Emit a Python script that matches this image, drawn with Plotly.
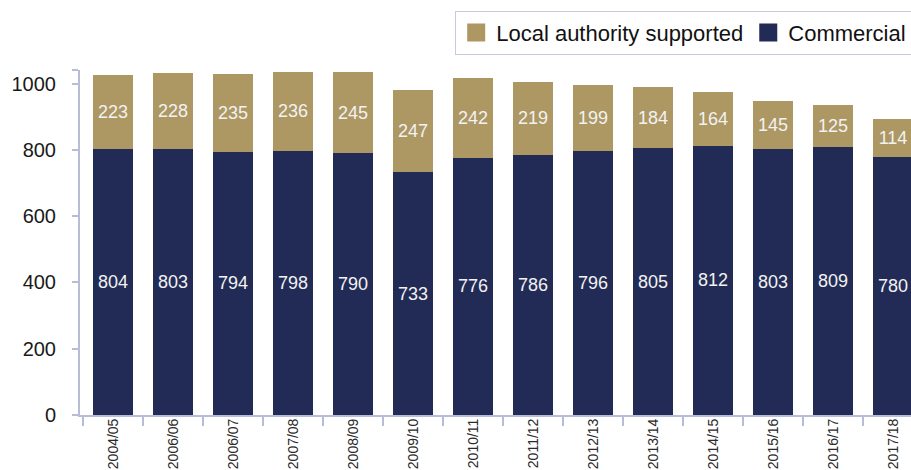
import plotly.graph_objects as go

# Bus journeys by year (millions): commercial vs local-authority-supported services
years = ["2004/05", "2006/06", "2006/07", "2007/08", "2008/09", "2009/10", "2010/11",
         "2011/12", "2012/13", "2013/14", "2014/15", "2015/16", "2016/17", "2017/18"]
commercial = [804, 803, 794, 798, 790, 733, 776, 786, 796, 805, 812, 803, 809, 780]
la_supported = [223, 228, 235, 236, 245, 247, 242, 219, 199, 184, 164, 145, 125, 114]
y_tick_values = [0, 200, 400, 600, 800, 1000]

NAVY = "#222b55"
GOLD = "#ad9864"
AXIS = "#b7bdd8"
FONT = "Liberation Sans, Arial, sans-serif"

fig = go.Figure()

fig.add_trace(go.Bar(
    x=years, y=commercial, name="Commercial",
    marker=dict(color=NAVY, line=dict(width=0)),
    text=[str(v) for v in commercial], textposition="inside",
    insidetextanchor="middle", textangle=0,
    textfont=dict(color="#f2f2f2", size=18, family=FONT),
    showlegend=False, hoverinfo="x+y+name",
))
fig.add_trace(go.Bar(
    x=years, y=la_supported, name="Local authority supported",
    marker=dict(color=GOLD, line=dict(width=0)),
    text=[str(v) for v in la_supported], textposition="inside",
    insidetextanchor="middle", textangle=0,
    textfont=dict(color="#f2f2f2", size=18, family=FONT),
    showlegend=False, hoverinfo="x+y+name",
))

# Legend entries with larger square swatches
for name, color in [("Local authority supported", GOLD), ("Commercial", NAVY)]:
    fig.add_trace(go.Scatter(
        x=[None], y=[None], mode="markers", name=name,
        marker=dict(symbol="square", size=16, color=color,
                    line=dict(color=color, width=2)),
        showlegend=True, hoverinfo="skip",
    ))

fig.update_layout(
    width=911, height=470,
    margin=dict(l=80, r=0, t=70, b=55, autoexpand=False),
    paper_bgcolor="white", plot_bgcolor="white",
    barmode="stack", bargap=1/3,
    font=dict(family=FONT, color="#1a1a1a"),
    legend=dict(
        orientation="h", x=0.4515, y=1.172, xanchor="left", yanchor="top",
        bordercolor="#c8cadf", borderwidth=1, bgcolor="white",
        font=dict(size=22, color="#111111", family=FONT),
        traceorder="normal", itemclick=False, itemdoubleclick=False,
    ),
)

fig.update_xaxes(
    type="category", range=[-0.55, 13.3],
    showline=True, linecolor=AXIS, linewidth=2,
    ticks="outside", tickson="boundaries", ticklen=9, tickwidth=2, tickcolor=AXIS,
    tickangle=-90, tickfont=dict(size=14, color="#2a2a2a", family=FONT),
    ticklabelstandoff=-4,
    showgrid=False, zeroline=False,
)
fig.update_yaxes(
    range=[0, 1041],
    tickvals=y_tick_values + [1041], ticktext=[str(v) for v in y_tick_values] + [""],
    showline=True, linecolor=AXIS, linewidth=2,
    ticks="outside", ticklen=6, tickwidth=2, tickcolor=AXIS,
    tickfont=dict(size=20, color="#1a1a1a", family=FONT),
    ticklabelstandoff=12,
    showgrid=False, zeroline=False,
)

fig.write_html("out.html")
